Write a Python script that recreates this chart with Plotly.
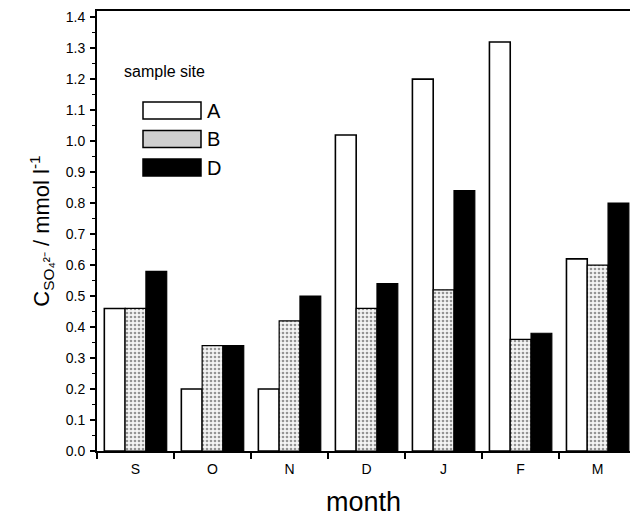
import plotly.graph_objects as go

# Monthly sulfate concentrations at three sampling sites
months = ["S", "O", "N", "D", "J", "F", "M"]
site_a = [0.46, 0.20, 0.20, 1.02, 1.20, 1.32, 0.62]
site_b = [0.46, 0.34, 0.42, 0.46, 0.52, 0.36, 0.60]
site_d = [0.58, 0.34, 0.50, 0.54, 0.84, 0.38, 0.80]
site_names = ["A", "B", "D"]

FONT = "Liberation Sans, Arial, sans-serif"

fig = go.Figure()

fig.add_bar(
    x=months, y=site_a, name=site_names[0],
    marker=dict(color="white", line=dict(color="black", width=1.6)),
)
fig.add_bar(
    x=months, y=site_b, name=site_names[1],
    marker=dict(
        color="white",
        line=dict(color="black", width=1.2),
        pattern=dict(shape=".", fgcolor="#333333", bgcolor="#f4f4f4",
                     size=4, solidity=0.35),
    ),
)
fig.add_bar(
    x=months, y=site_d, name=site_names[2],
    marker=dict(color="black", line=dict(color="black", width=1.2)),
)

# Legend drawn as wide swatches with a heading
L, R, T, B = 97, 630, 11, 451
W, H = R - L, B - T


def px(x):
    return (x - L) / W


def py(y):
    return (B - y) / H


fig.add_annotation(
    x=px(122), y=py(71), xref="paper", yref="paper", text="sample site",
    showarrow=False, xanchor="left", yanchor="middle",
    font=dict(family=FONT, size=16, color="black"),
)
swatch_fill = ["white", "#cfcfcf", "black"]
for i, (name, fill) in enumerate(zip(site_names, swatch_fill)):
    top = 102 + i * 28.5
    fig.add_shape(
        type="rect", xref="paper", yref="paper",
        x0=px(143), x1=px(201), y0=py(top), y1=py(top + 17),
        fillcolor=fill, line=dict(color="black", width=1.5),
    )
    fig.add_annotation(
        x=px(205), y=py(top + 9), xref="paper", yref="paper", text=name,
        showarrow=False, xanchor="left", yanchor="middle",
        font=dict(family=FONT, size=20, color="black"),
    )

fig.update_layout(
    width=630, height=521,
    margin=dict(l=L, r=630 - R, t=T, b=521 - B),
    paper_bgcolor="white", plot_bgcolor="white",
    barmode="group", bargap=0.19, bargroupgap=0,
    showlegend=False,
    font=dict(family=FONT, color="black"),
)

fig.update_xaxes(
    range=[-0.5, 6.42],
    showline=True, linecolor="black", linewidth=2, mirror=True,
    ticks="outside", tickson="boundaries", ticklen=6, tickwidth=1.5, tickcolor="black",
    ticklabelstandoff=4,
    tickfont=dict(family=FONT, size=14, color="black"),
    showgrid=False, zeroline=False,
    title=dict(text="month", font=dict(family=FONT, size=27, color="black"), standoff=16),
)

fig.update_yaxes(
    range=[0, 1.42],
    tick0=0, dtick=0.1, tickformat=".1f",
    showline=True, linecolor="black", linewidth=2, mirror=False,
    ticks="outside", ticklen=5, tickwidth=1.5, tickcolor="black",
    minor=dict(dtick=0.05, ticks="outside", ticklen=3, tickwidth=1, tickcolor="black"),
    ticklabelstandoff=2,
    tickfont=dict(family=FONT, size=14, color="black"),
    showgrid=False, zeroline=False,
    title=dict(
        text="C<sub>SO₄²⁻</sub> / mmol l<sup>-1</sup>",
        font=dict(family=FONT, size=22, color="black"), standoff=10,
    ),
)

fig.write_html("out.html")
